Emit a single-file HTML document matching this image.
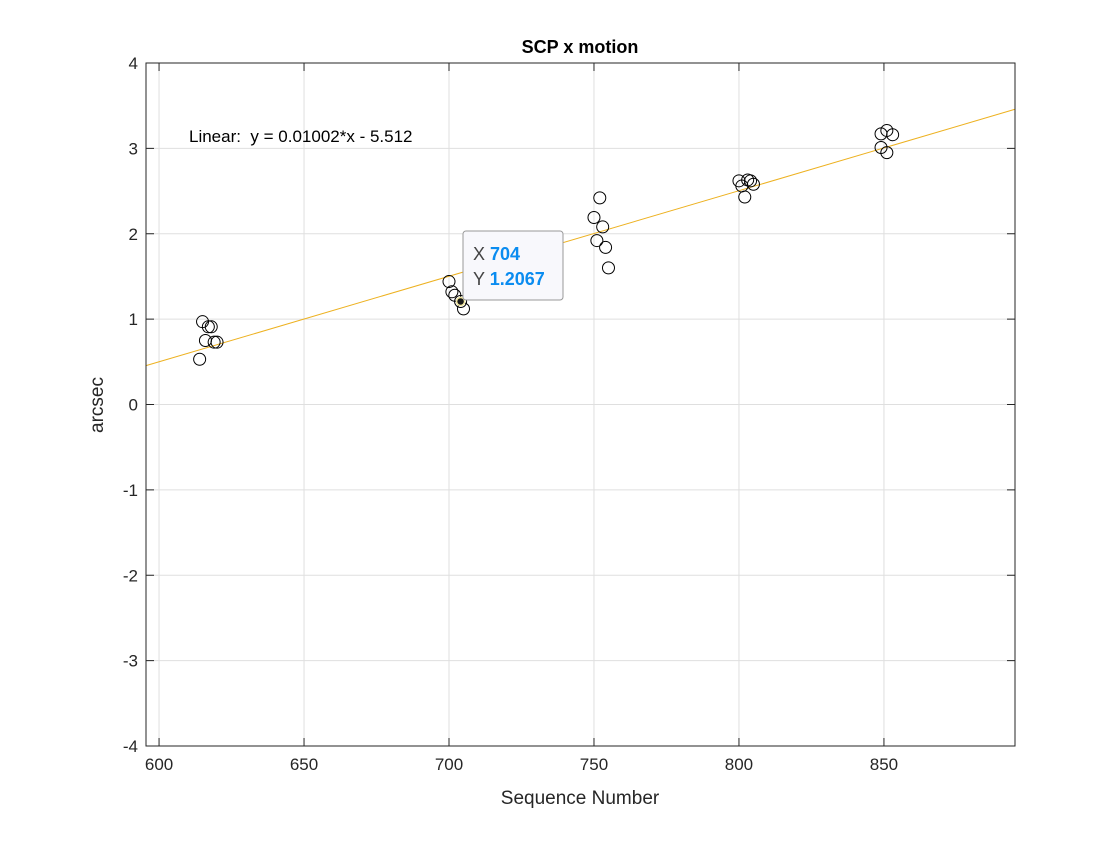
<!DOCTYPE html>
<html><head><meta charset="utf-8"><style>
body{margin:0;background:#fff;font-family:"Liberation Sans",sans-serif}
svg text{font-family:"Liberation Sans",sans-serif}
</style></head><body>
<svg id="chart" width="1120" height="840" xmlns="http://www.w3.org/2000/svg">
<rect width="1120" height="840" fill="#fff"/>
<g id="grid"></g>
<g id="fit"></g>
<g id="pts"></g>
<rect x="146" y="63" width="869" height="683" fill="none" stroke="#262626" stroke-width="1"/>
<g id="ticks"></g>
<text x="580" y="53" text-anchor="middle" font-size="18" font-weight="bold" fill="#000">SCP x motion</text>
<text x="580" y="804" text-anchor="middle" font-size="19" fill="#262626">Sequence Number</text>
<text transform="translate(103,405) rotate(-90)" text-anchor="middle" font-size="19" fill="#262626">arcsec</text>
<text x="189" y="142" font-size="17" fill="#000">Linear:&#160; y = 0.01002*x - 5.512</text>
<g>
<circle id="tipdot" r="4" fill="#1a1a1a" stroke="#f2e8a0" stroke-width="1.5"/>
<rect x="463" y="231" width="100" height="69" rx="3" fill="#f8f8fc" stroke="#999" stroke-width="1"/>
<text x="473" y="260" font-size="18" fill="#444">X <tspan fill="#0a8cf0" font-weight="bold">704</tspan></text>
<text x="473" y="285" font-size="18" fill="#444">Y <tspan fill="#0a8cf0" font-weight="bold">1.2067</tspan></text>
</g>
</svg>
<script>
const xs=[615,617,618,616,619,620,614,700,701,702,704,705,752,750,753,751,754,755,800,801,803,804,805,802,849,851,849,851,853];
const ys=[0.97,0.91,0.91,0.75,0.73,0.73,0.53,1.44,1.32,1.28,1.2067,1.12,2.42,2.19,2.08,1.92,1.84,1.60,2.62,2.56,2.63,2.62,2.58,2.43,3.01,2.95,3.17,3.21,3.16];
const xTicks=[600,650,700,750,800,850];
const yTicks=[-4,-3,-2,-1,0,1,2,3,4];
const fitSlope=0.01002, fitIntercept=-5.512;
const tipX=704, tipY=1.2067;
const X0=595.5,X1=895.2,L=146,R=1015,T=63,B=746;
const sx=v=>L+(v-X0)/(X1-X0)*(R-L);
const sy=v=>B-(v+4)/8*(B-T);
const NS="http://www.w3.org/2000/svg";
function mk(t,a,p){const e=document.createElementNS(NS,t);for(const k in a)e.setAttribute(k,a[k]);p.appendChild(e);return e;}
const g=document.getElementById('grid'),tk=document.getElementById('ticks');
xTicks.forEach(v=>{const x=sx(v);
const l=mk('line',{x1:x,x2:x,y1:T,y2:B,stroke:'#dfdfdf'},g);


mk('line',{x1:x,x2:x,y1:B,y2:B-8,stroke:'#262626'},tk);
mk('line',{x1:x,x2:x,y1:T,y2:T+8,stroke:'#262626'},tk);
const t=mk('text',{x:x,y:B+24,'text-anchor':'middle','font-size':17,fill:'#262626'},tk);t.textContent=v;

});
yTicks.forEach(v=>{const y=sy(v);
const l=mk('line',{x1:L,x2:R,y1:y,y2:y,stroke:'#dfdfdf'},g);


mk('line',{x1:L,x2:L+8,y1:y,y2:y,stroke:'#262626'},tk);
mk('line',{x1:R,x2:R-8,y1:y,y2:y,stroke:'#262626'},tk);
const t=mk('text',{x:L-8,y:y+6,'text-anchor':'end','font-size':17,fill:'#262626'},tk);t.textContent=v;

});
const fl=mk('line',{x1:L,y1:sy(fitSlope*X0+fitIntercept),x2:R,y2:sy(fitSlope*X1+fitIntercept),stroke:'#edb120','stroke-width':1},document.getElementById('fit'));


const pg=document.getElementById('pts');
xs.forEach((v,i)=>{const c=mk('circle',{cx:sx(v),cy:sy(ys[i]),r:6,fill:'none',stroke:'#000','stroke-width':1},pg);

});
const td=document.getElementById('tipdot');td.setAttribute('cx',sx(tipX));td.setAttribute('cy',sy(tipY));
</script>
</body></html>
